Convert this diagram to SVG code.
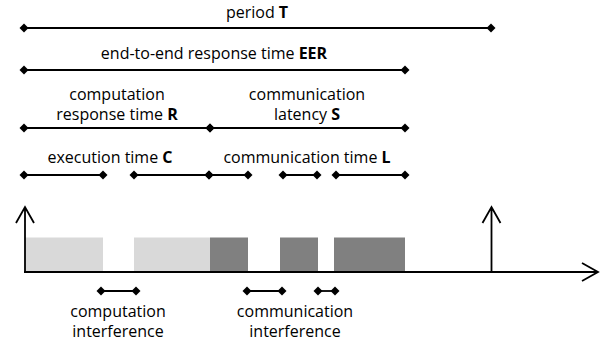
<svg xmlns="http://www.w3.org/2000/svg" width="605" height="352" viewBox="0 0 605 352">
<style>
text{font-family:"Open Sans","Liberation Sans",sans-serif;font-size:16px;fill:#000;text-anchor:middle}
.b{font-weight:bold}
.dim{stroke:#000;stroke-width:1.8;fill:none;marker-start:url(#d);marker-end:url(#d)}
.ax{stroke:#000;stroke-width:1.8;fill:none}
.lt{fill:#d9d9d9}
.dk{fill:#808080}
</style>
<defs>
<marker id="d" markerUnits="userSpaceOnUse" markerWidth="10" markerHeight="10" viewBox="-5 -5 10 10" refX="0" refY="0" orient="auto">
<path d="M0,-4.5 L4.5,0 L0,4.5 L-4.5,0 Z" fill="#000"/>
</marker>
</defs>
<rect width="605" height="352" fill="#fff"/>
<g id="bars">
<rect class="lt" x="25" y="237.5" width="78" height="34"/>
<rect class="lt" x="134" y="237.5" width="76" height="34"/>
<rect class="dk" x="210" y="237.5" width="38" height="34"/>
<rect class="dk" x="280" y="237.5" width="38" height="34"/>
<rect class="dk" x="334" y="237.5" width="71" height="34"/>
</g>
<g id="axes">
<path class="ax" d="M25,272 V207 M16,223 L25,207 L34,223"/>
<path class="ax" d="M491.5,272 V207 M482.5,223 L491.5,207 L500.5,223"/>
<path class="ax" d="M24,272 H597 M582,263 L598,272 L582,281"/>
</g>
<g id="connectors">
<line class="dim" x1="24" y1="28" x2="491" y2="28"/>
<line class="dim" x1="24" y1="70" x2="405" y2="70"/>
<line class="dim" x1="24" y1="128" x2="210" y2="128"/>
<line class="dim" x1="210" y1="128" x2="405" y2="128"/>
<line class="dim" x1="24" y1="175" x2="103" y2="175"/>
<line class="dim" x1="134" y1="175" x2="209" y2="175"/>
<line class="dim" x1="209" y1="175" x2="248" y2="175"/>
<line class="dim" x1="283" y1="175" x2="317" y2="175"/>
<line class="dim" x1="336" y1="175" x2="405" y2="175"/>
<line class="dim" x1="101" y1="291" x2="136" y2="291"/>
<line class="dim" x1="247" y1="291" x2="282" y2="291"/>
<line class="dim" x1="318" y1="291" x2="335" y2="291"/>
</g>
<g id="labels">
<text x="257" y="18">period <tspan class="b">T</tspan></text>
<text x="214" y="59">end-to-end response time <tspan class="b">EER</tspan></text>
<text x="117" y="100">computation</text>
<text x="117" y="120">response time <tspan class="b">R</tspan></text>
<text x="307" y="100">communication</text>
<text x="307" y="120">latency <tspan class="b">S</tspan></text>
<text x="110" y="163">execution time <tspan class="b">C</tspan></text>
<text x="307" y="163">communication time <tspan class="b">L</tspan></text>
<text x="118" y="317">computation</text>
<text x="118" y="337">interference</text>
<text x="295" y="317">communication</text>
<text x="295" y="337">interference</text>
</g>
</svg>
